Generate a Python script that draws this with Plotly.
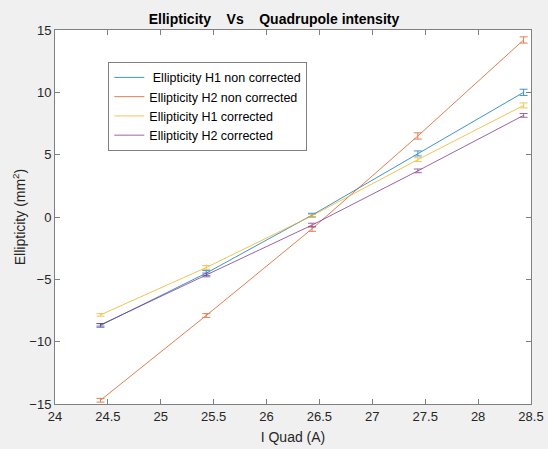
import plotly.graph_objects as go

i_quad = [24.43, 25.43, 26.43, 27.43, 28.43]
h1_nc = [-8.7, -4.5, 0.15, 5.1, 10.0]
h2_nc = [-14.7, -7.9, -0.95, 6.5, 14.2]
h1_c = [-7.85, -4.05, 0.1, 4.6, 8.95]
h2_c = [-8.65, -4.65, -0.65, 3.7, 8.15]
h1_nc_err = [0.15, 0.2, 0.15, 0.2, 0.25]
h2_nc_err = [0.15, 0.15, 0.2, 0.25, 0.25]
h1_c_err = [0.1, 0.15, 0.1, 0.15, 0.2]
h2_c_err = [0.1, 0.15, 0.15, 0.15, 0.15]

names = [" Ellipticity H1 non corrected", "Ellipticity H2 non corrected",
         "Ellipticity H1 corrected", "Ellipticity H2 corrected"]
series = [h1_nc, h2_nc, h1_c, h2_c]
errs = [h1_nc_err, h2_nc_err, h1_c_err, h2_c_err]
colors = ["#0072BD", "#D95319", "#EDB120", "#7E2F8E"]

fig = go.Figure()
for n, y, e, c in zip(names, series, errs, colors):
    fig.add_trace(go.Scatter(
        x=i_quad, y=y, name=n, mode="lines",
        line=dict(color=c, width=1),
        opacity=0.75,
        error_y=dict(type="data", array=e, visible=True, color=c, thickness=1, width=4),
    ))

axis_common = dict(
    showline=True, linecolor="#808080", linewidth=1, mirror="ticks",
    ticks="inside", ticklen=5, tickcolor="#808080", showgrid=False, zeroline=False,
    automargin=False,
    tickfont=dict(family="Liberation Sans, Arial", size=13, color="#262626"),
)

fig.update_layout(
    width=548, height=449,
    paper_bgcolor="#F0F0F0", plot_bgcolor="white",
    margin=dict(l=55, r=17, t=30, b=45),
    title=dict(text="<b>Ellipticity    Vs    Quadrupole intensity</b>", x=0.5, xanchor="center",
               y=1 - 24/449, yanchor="bottom",
               font=dict(family="Liberation Sans, Arial", size=14, color="black")),
    xaxis=dict(range=[24, 28.5], tickvals=[24, 24.5, 25, 25.5, 26, 26.5, 27, 27.5, 28, 28.5],
               ticktext=["24", "24.5", "25", "25.5", "26", "26.5", "27", "27.5", "28", "28.5"],
               title=dict(text="I Quad (A)", standoff=9,
                          font=dict(family="Liberation Sans, Arial", size=14, color="#262626")),
               **axis_common),
    yaxis=dict(range=[-15, 15], tickvals=[-15, -10, -5, 0, 5, 10, 15],
               title=dict(text="Ellipticity (mm<sup>2</sup>)", standoff=0,
                          font=dict(family="Liberation Sans, Arial", size=14, color="#262626")),
               **axis_common),
    legend=dict(x=0.112, y=0.915, xanchor="left", yanchor="top",
                bgcolor="white", bordercolor="#808080", borderwidth=1,
                font=dict(family="Liberation Sans, Arial", size=12.5, color="black"),
                tracegroupgap=0, itemwidth=30),
    showlegend=True,
)

fig.write_html("out.html", config={"displayModeBar": False},
               post_script="document.body.style.margin='0';document.body.style.overflow='hidden';")
